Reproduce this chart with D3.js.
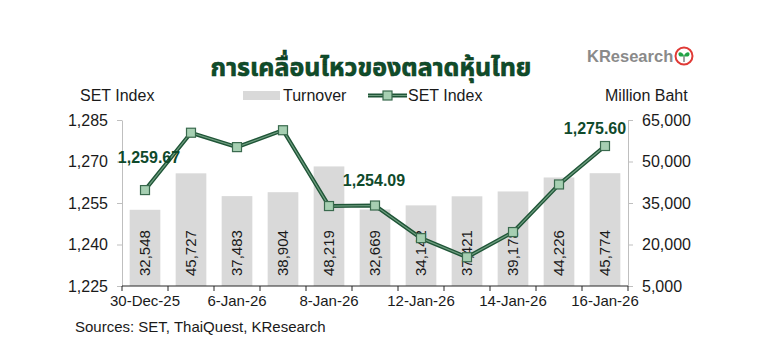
<!DOCTYPE html>
<html>
<head>
<meta charset="utf-8">
<script src="https://cdn.jsdelivr.net/npm/d3@7"></script>
<style>
  body { margin: 0; background: #fff; }
  text { font-family: Arial, "Liberation Sans", sans-serif; }
</style>
</head>
<body>
<div id="chart"></div>
<script>
var svgWidth = 779;
var svgHeight = 348;

var dates = ["30-Dec-25", "2-Jan-26", "6-Jan-26", "7-Jan-26", "8-Jan-26", "9-Jan-26",
             "12-Jan-26", "13-Jan-26", "14-Jan-26", "15-Jan-26", "16-Jan-26"];
var turnover = [32548, 45727, 37483, 38904, 48219, 32669, 34142, 37421, 39178, 44226, 45774];
var setIndex = [1259.67, 1280.4, 1275.2, 1281.3, 1253.9, 1254.09, 1242.3, 1235.4, 1244.5, 1261.7, 1275.60];
var leftTicks = [1225, 1240, 1255, 1270, 1285];
var rightTicks = [5000, 20000, 35000, 50000, 65000];
var shownDates = ["30-Dec-25", "6-Jan-26", "8-Jan-26", "12-Jan-26", "14-Jan-26", "16-Jan-26"];
var labelled = [0, 5, 10];

var margin = { top: 120, right: 151, bottom: 62, left: 122 };
var width = svgWidth - margin.left - margin.right;
var height = svgHeight - margin.top - margin.bottom;

var svg = d3.select("#chart")
  .append("svg")
  .attr("width", svgWidth)
  .attr("height", svgHeight);

var chartGroup = svg.append("g")
  .attr("transform", `translate(${margin.left}, ${margin.top})`);

// scales
var xScale = d3.scaleBand().domain(dates).range([0, width]).paddingInner(1 / 3).paddingOuter(1 / 6);
var xTickScale = d3.scaleBand().domain(dates).range([0, width]);
var yLeft = d3.scaleLinear().domain([1225, 1285]).range([height, 0]);
var yRight = d3.scaleLinear().domain([5000, 65000]).range([height, 0]);

// bars
chartGroup.selectAll(".bar")
  .data(turnover)
  .enter()
  .append("rect")
  .attr("class", "bar")
  .attr("x", function(d, i) { return xScale(dates[i]); })
  .attr("y", function(d) { return yRight(d); })
  .attr("width", xScale.bandwidth())
  .attr("height", function(d) { return height - yRight(d); })
  .attr("fill", "#d9d9d9");

// bar labels (rotated)
chartGroup.selectAll(".barLabel")
  .data(turnover)
  .enter()
  .append("text")
  .attr("class", "barLabel")
  .attr("transform", function(d, i) {
    var cx = xScale(dates[i]) + xScale.bandwidth() / 2;
    return `translate(${cx + 5}, ${height - 10}) rotate(-90)`;
  })
  .attr("font-size", "15px")
  .attr("fill", "#1a1a1a")
  .text(function(d) { return d3.format(",")(d); });

// axes
var leftAxis = d3.axisLeft(yLeft).tickValues(leftTicks).tickFormat(d3.format(",")).tickSize(5).tickSizeOuter(0);
var rightAxis = d3.axisRight(yRight).tickValues(rightTicks).tickFormat(d3.format(",")).tickSize(5).tickSizeOuter(0);

var gl = chartGroup.append("g").call(leftAxis);
var gr = chartGroup.append("g").attr("transform", `translate(${width}, 0)`).call(rightAxis);
[gl, gr].forEach(function(g) {
  g.select(".domain").attr("stroke", "#bfbfbf");
  g.selectAll(".tick line").attr("stroke", "#bfbfbf");
  g.selectAll(".tick text").attr("font-size", "16px").attr("fill", "#1a1a1a")
    .attr("font-family", "Arial, 'Liberation Sans', sans-serif");
});
gl.selectAll(".tick text").attr("x", -14);
gr.selectAll(".tick text").attr("x", 14);

// bottom axis: tick marks on category boundaries
var bottom = chartGroup.append("g").attr("transform", `translate(0, ${height})`);
bottom.append("line").attr("x1", 0).attr("x2", width).attr("stroke", "#262626");
bottom.selectAll(".xtick")
  .data(dates.concat(["end"]))
  .enter()
  .append("line")
  .attr("x1", function(d, i) { return i < dates.length ? xTickScale(d) : width; })
  .attr("x2", function(d, i) { return i < dates.length ? xTickScale(d) : width; })
  .attr("y1", 0).attr("y2", 5)
  .attr("stroke", "#262626");
bottom.selectAll(".xlabel")
  .data(shownDates)
  .enter()
  .append("text")
  .attr("x", function(d) { return xTickScale(d) + xTickScale.bandwidth() / 2; })
  .attr("y", 20)
  .attr("text-anchor", "middle")
  .attr("font-size", "15px")
  .attr("fill", "#1a1a1a")
  .text(function(d) { return d; });

// SET index line
var line = d3.line()
  .x(function(d, i) { return xTickScale(dates[i]) + xTickScale.bandwidth() / 2; })
  .y(function(d) { return yLeft(d); });

chartGroup.append("path").datum(setIndex)
  .attr("d", line).attr("fill", "none")
  .attr("stroke", "#1f5537").attr("stroke-width", 4);
chartGroup.append("path").datum(setIndex)
  .attr("d", line).attr("fill", "none")
  .attr("stroke", "#6f9e80").attr("stroke-width", 1.2);

chartGroup.selectAll(".marker")
  .data(setIndex)
  .enter()
  .append("rect")
  .attr("x", function(d, i) { return xTickScale(dates[i]) + xTickScale.bandwidth() / 2 - 4.5; })
  .attr("y", function(d) { return yLeft(d) - 4.5; })
  .attr("width", 9).attr("height", 9)
  .attr("fill", "#a6cfb2")
  .attr("stroke", "#3a6a4e").attr("stroke-width", 1.2);

// value labels
var labelOffsets = { 0: [4, -27], 5: [-1, -20], 10: [-10, -12] };
chartGroup.selectAll(".valLabel")
  .data(labelled)
  .enter()
  .append("text")
  .attr("x", function(i) { return xTickScale(dates[i]) + xTickScale.bandwidth() / 2 + labelOffsets[i][0]; })
  .attr("y", function(i) { return yLeft(setIndex[i]) + labelOffsets[i][1]; })
  .attr("text-anchor", "middle")
  .attr("font-size", "16px")
  .attr("font-weight", "bold")
  .attr("fill", "#0f4a2b")
  .text(function(i) { return d3.format(",.2f")(setIndex[i]); });

// title
svg.append("text")
  .attr("x", 371).attr("y", 76)
  .attr("text-anchor", "middle")
  .attr("font-size", "25px")
  .attr("font-weight", "bold")
  .attr("fill", "#0f4d2a")
  .attr("stroke", "#0a3a1e").attr("stroke-width", 0.6)
  .style("font-family", "'Noto Sans Thai', Tahoma, 'Noto Sans', sans-serif")
  .text("การเคลื่อนไหวของตลาดหุ้นไทย");

// logo
svg.append("text")
  .attr("x", 587).attr("y", 62)
  .attr("font-size", "16.5px")
  .attr("font-weight", "bold")
  .attr("fill", "#8a8a8a")
  .text("KResearch");
var logo = svg.append("g").attr("transform", "translate(684, 56)");
logo.append("circle").attr("r", 8.5).attr("fill", "#fff").attr("stroke", "#e03a36").attr("stroke-width", 2);
logo.append("path").attr("d", "M0,6 L0,0").attr("stroke", "#8a8a8a").attr("stroke-width", 1.6);
logo.append("path").attr("d", "M0,0 C-1,-4 -6,-5 -5.5,-1.5 C-5,1 -2,1 0,0 Z M0,0 C1,-4 6,-5 5.5,-1.5 C5,1 2,1 0,0 Z")
  .attr("fill", "#23a347");

// axis titles and legend
svg.append("text").attr("x", 80).attr("y", 101).attr("font-size", "16px").attr("fill", "#1a1a1a").text("SET Index");
svg.append("text").attr("x", 605).attr("y", 101).attr("font-size", "16px").attr("fill", "#1a1a1a").text("Million Baht");

var legend = svg.append("g");
legend.append("rect").attr("x", 243).attr("y", 91).attr("width", 37).attr("height", 9).attr("fill", "#d9d9d9");
legend.append("text").attr("x", 283).attr("y", 101).attr("font-size", "16px").attr("fill", "#1a1a1a").text("Turnover");
legend.append("line").attr("x1", 368).attr("x2", 407).attr("y1", 95.5).attr("y2", 95.5)
  .attr("stroke", "#1f5537").attr("stroke-width", 4);
legend.append("line").attr("x1", 368).attr("x2", 407).attr("y1", 95.5).attr("y2", 95.5)
  .attr("stroke", "#6f9e80").attr("stroke-width", 1.2);
legend.append("rect").attr("x", 383).attr("y", 91).attr("width", 9).attr("height", 9)
  .attr("fill", "#a6cfb2").attr("stroke", "#3a6a4e").attr("stroke-width", 1.2);
legend.append("text").attr("x", 408).attr("y", 101).attr("font-size", "16px").attr("fill", "#1a1a1a").text("SET Index");

// sources
svg.append("text").attr("x", 75).attr("y", 332).attr("font-size", "15px").attr("fill", "#1a1a1a")
  .text("Sources: SET, ThaiQuest, KResearch");
</script>
</body>
</html>
